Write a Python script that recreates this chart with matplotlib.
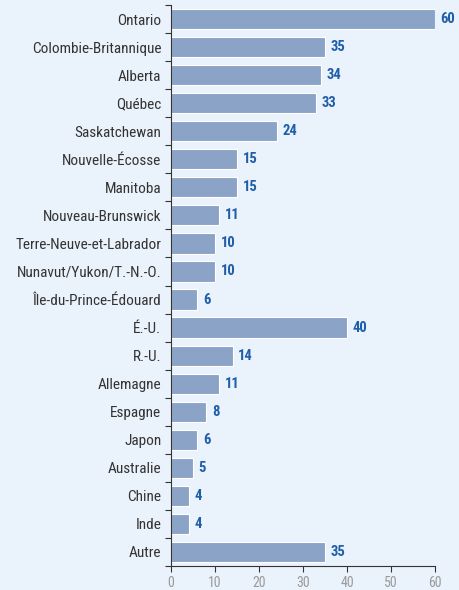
import matplotlib.pyplot as plt
import numpy as np

regions = ["Ontario", "Colombie-Britannique", "Alberta", "Québec", "Saskatchewan",
           "Nouvelle-Écosse", "Manitoba", "Nouveau-Brunswick", "Terre-Neuve-et-Labrador",
           "Nunavut/Yukon/T.-N.-O.", "Île-du-Prince-Édouard", "É.-U.", "R.-U.",
           "Allemagne", "Espagne", "Japon", "Australie", "Chine", "Inde", "Autre"]
values = [60, 35, 34, 33, 24, 15, 15, 11, 10, 10, 6, 40, 14, 11, 8, 6, 5, 4, 4, 35]

bg = "#EAF2FB"
bar_col = "#8AA3C6"
val_col = "#1F5EA8"

plt.rcParams['font.family'] = ['Roboto Condensed', 'DejaVu Sans']

fig = plt.figure(figsize=(4.6, 5.9), dpi=100, facecolor=bg)
ax = fig.add_axes([0.3717, 0.0407, 0.574, 0.9508], facecolor=bg)

y = np.arange(len(regions))
ax.barh(y, values, height=0.72, color=bar_col, edgecolor="white", linewidth=0.8)
for yi, v in zip(y, values):
    ax.text(v + 1.3, yi, str(v), va="center", ha="left", fontsize=10.5,
            fontweight="bold", color=val_col)

ax.set_ylim(len(regions) - 0.5, -0.5)
ax.set_xlim(0, 60)
ax.set_yticks(y)
ax.set_yticklabels(regions, fontsize=11, color="#333333")
ax.set_yticks(np.arange(-0.5, len(regions), 1), minor=True)
ax.tick_params(axis="y", which="major", length=0, pad=7)
ax.tick_params(axis="y", which="minor", length=4, color="#333333", width=0.8)
ax.set_xticks(np.arange(0, 61, 10))
ax.tick_params(axis="x", length=4, color="#333333", width=0.8, labelsize=10,
               labelcolor="#9A9A9A", pad=3)
for s in ["top", "right"]:
    ax.spines[s].set_visible(False)
for s in ["left", "bottom"]:
    ax.spines[s].set_color("#333333")
    ax.spines[s].set_linewidth(0.8)

fig.savefig("out.png", dpi=100, facecolor=bg)
